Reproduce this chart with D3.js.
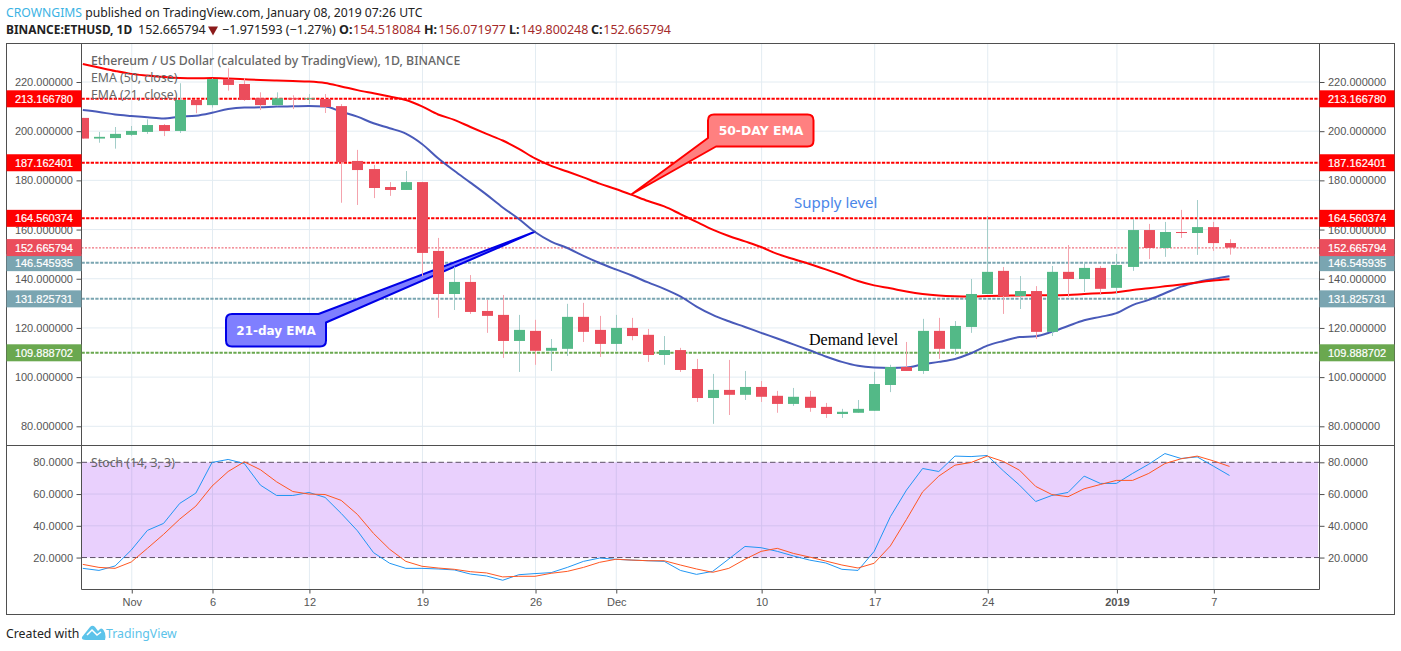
<!DOCTYPE html>
<html><head><meta charset="utf-8">
<script src="https://cdn.jsdelivr.net/npm/d3@7"></script>
<style>
html,body{margin:0;padding:0;background:#fff;overflow:hidden}
svg{display:block}
text{font-family:"Liberation Sans",Arial,sans-serif}
.hd text,.hd{font-family:"Noto Sans",sans-serif}
</style></head><body>
<svg id="c" width="1401" height="651"></svg>
<script>
// ---------- data ----------
const opens=[205.4,197.0,197.2,198.5,199.7,202.5,200.1,212.7,210.6,221.2,219.2,213.4,210.6,213.4,213.0,213.1,210.2,187.9,184.6,177.3,176.1,179.3,151.3,133.8,138.7,126.9,125.3,114.7,118.8,110.7,111.5,124.5,119.2,113.5,120.0,117.2,109.0,111.0,103.3,91.5,94.8,92.8,96.0,92.4,89.1,92.0,87.9,85.0,85.5,86.3,96.8,104.1,102.5,118.8,111.5,120.4,133.8,143.2,133.0,135.0,118.4,142.8,139.9,144.4,136.3,144.8,159.8,152.5,159.0,158.6,161.0,154.518];
const highs=[205.4,199.7,201.7,202.1,204.8,202.9,219.5,212.7,221.5,225.6,221.5,215.8,215.8,214.6,215.1,215.1,211.0,192.4,186.3,179.3,183.8,179.3,156.6,144.9,141.5,131.4,133.4,125.3,123.3,115.5,129.8,130.2,124.9,125.3,124.1,119.6,116.7,111.9,107.4,101.3,107.0,102.5,98.4,94.4,95.6,94.4,89.5,87.1,90.7,102.1,105.0,114.3,123.7,124.1,122.8,139.9,165.5,144.8,141.1,137.0,145.2,153.7,146.8,145.2,150.1,164.3,162.3,163.1,168.0,172.0,163.1,156.072];
const lows=[197.0,195.3,192.9,198.0,198.9,198.0,199.3,207.3,209.6,216.5,212.3,208.6,210.2,209.0,211.0,207.4,170.9,170.0,172.8,173.7,176.1,141.1,124.1,127.3,125.7,118.0,107.8,102.1,105.0,102.5,108.6,114.3,108.2,110.6,115.0,106.2,105.0,102.1,89.9,81.0,84.6,90.7,89.9,85.5,88.3,85.9,83.4,83.4,85.5,86.3,93.9,102.5,101.3,107.4,109.0,118.0,133.8,125.7,127.7,115.5,116.7,132.6,134.6,133.4,133.8,143.2,148.0,148.9,156.6,149.7,151.3,149.8];
const closes=[197.0,197.7,198.9,200.1,202.5,200.1,212.7,210.6,221.2,218.8,212.7,210.6,213.4,213.0,213.4,209.8,187.4,184.2,176.9,176.1,179.3,150.5,133.8,138.7,126.5,124.9,114.7,119.2,110.7,111.9,124.5,118.4,113.5,120.0,116.7,109.0,111.0,102.9,91.5,94.8,92.8,96.0,92.0,89.1,92.0,87.5,85.0,85.9,87.1,97.2,104.1,102.5,118.8,111.5,120.8,133.8,142.8,133.0,135.0,118.4,142.8,139.9,144.4,135.9,145.6,159.8,152.5,159.0,158.6,161.0,154.5,152.666];
const ema50=[227.3,225.9,224.5,223.3,222.6,222.0,221.6,221.5,221.6,221.4,221.1,220.8,220.6,220.4,220.2,219.6,218.2,216.7,215.4,214.1,212.7,210.1,206.8,204.6,201.7,198.9,196.2,192.8,188.9,185.9,183.6,181.2,178.7,176.5,174.1,171.6,169.4,166.3,163.1,160.0,157.4,155.2,152.9,150.1,148.0,146.0,143.8,141.5,139.1,137.3,136.1,134.8,133.8,133.2,132.9,132.8,133.0,133.1,133.2,133.3,133.3,133.4,133.8,134.1,134.5,135.4,136.1,136.9,137.7,138.5,139.3,139.8];
const ema21=[208.6,207.8,206.8,206.2,205.7,205.2,205.9,206.3,207.5,209.0,209.6,209.7,210.0,210.1,210.2,210.0,207.9,205.9,203.2,201.2,199.0,194.8,189.0,183.9,179.1,174.2,169.0,164.3,159.0,155.1,152.5,149.3,146.4,143.8,141.3,138.5,135.9,132.8,128.7,125.3,122.7,120.4,118.0,115.7,113.3,110.9,108.4,106.2,104.6,103.9,103.7,103.9,105.2,106.2,107.4,109.7,112.8,114.7,116.3,116.6,118.4,120.8,123.1,124.5,126.0,129.3,131.4,134.1,136.8,138.6,139.9,141.0];
const stochK=[13.2,11.9,14.7,24.7,37.1,41.5,54.1,60.6,79.9,81.8,79.2,65.6,59.1,59.1,61.0,57.9,47.8,36.9,23.1,16.4,13.2,13.2,12.8,12.2,9.6,8.4,5.7,9.2,9.9,10.5,13.8,17.6,19.7,18.9,18.4,18.0,17.6,11.9,9.4,11.3,19.1,27.0,26.2,23.9,21.0,18.4,16.6,12.6,11.9,23.9,45.7,62.5,76.1,74.2,83.9,83.6,84.3,74.6,65.6,55.3,59.1,61.0,71.3,66.7,66.7,73.0,78.8,85.5,82.4,83.4,77.6,71.7];
const stochD=[15.7,13.8,13.2,17.2,25.8,34.6,44.2,52.4,65.0,74.2,80.3,75.3,67.7,61.6,60.0,59.7,56.0,47.2,35.2,25.2,17.6,14.5,13.4,12.6,11.1,10.3,7.8,8.2,8.2,10.1,11.3,13.8,17.0,18.9,18.4,18.0,18.0,15.3,12.8,10.7,13.2,18.9,23.9,25.8,22.6,20.3,17.8,15.3,13.4,16.4,27.3,44.0,61.4,71.3,78.2,79.9,83.9,80.5,75.0,64.8,59.7,58.3,63.3,66.0,68.6,68.6,73.0,79.2,82.2,83.9,80.9,77.4];
const priceTicks=[80,100,120,140,160,180,200,220];
const stochTicks=[20,40,60,80];
const timeTickIdx=[3,8,14,21,28,33,42,49,56,64,70];
const timeTickLabels=["Nov","6","12","19","26","Dec","10","17","24","2019","7"];
const levelValues=[213.16678,187.162401,164.560374,146.545935,131.825731,109.888702];
const levelColors=["#ff0000","#ff0000","#ff0000","#7aa5b1","#7aa5b1","#6aa84f"];
const lastPrice=152.665794;

// ---------- layout ----------
const L=81.5,R=1319.5,T=43.5,M=445.5,B=589.5,OL=6.5,OR=1394.5,OB=614.5;
const svg=d3.select("#c");
const x=d3.scaleLinear().domain([0,71]).range([82.8,1229.5]);
const y=d3.scaleLinear().domain([80,220]).range([426.3,82]);
const s=d3.scaleLinear().domain([0,80]).range([589.3,462.3]);
const fmt6=d3.format(".6f"),fmt4=d3.format(".4f");

const defs=svg.append("defs");
defs.append("clipPath").attr("id","cp").append("rect").attr("x",L).attr("y",T).attr("width",R-L).attr("height",M-T);
defs.append("clipPath").attr("id","cs").append("rect").attr("x",L).attr("y",M).attr("width",R-L).attr("height",B-M);

// stoch band
svg.append("rect").attr("x",L+.5).attr("width",R-L-2).attr("y",s(80)).attr("height",s(20)-s(80)).attr("fill","#e9d0fd");

// grid
const gridC="#e3ecf2";
const vg=svg.append("g");
timeTickIdx.forEach(i=>{
  vg.append("line").attr("x1",x(i)+.5).attr("x2",x(i)+.5).attr("y1",T).attr("y2",M).attr("stroke",gridC);
  vg.append("line").attr("x1",x(i)+.5).attr("x2",x(i)+.5).attr("y1",M).attr("y2",s(80)).attr("stroke",gridC);
  vg.append("line").attr("x1",x(i)+.5).attr("x2",x(i)+.5).attr("y1",s(80)).attr("y2",s(20)).attr("stroke","#d3c2f0");
  vg.append("line").attr("x1",x(i)+.5).attr("x2",x(i)+.5).attr("y1",s(20)).attr("y2",B).attr("stroke",gridC);
});
priceTicks.forEach(v=>vg.append("line").attr("x1",L).attr("x2",R).attr("y1",y(v)).attr("y2",y(v)).attr("stroke",gridC).attr("stroke-width",1));
[40,60].forEach(v=>vg.append("line").attr("x1",L).attr("x2",R-1).attr("y1",s(v)).attr("y2",s(v)).attr("stroke","#d3c2f0"));
[20,80].forEach(v=>vg.append("line").attr("x1",L).attr("x2",R).attr("y1",s(v)).attr("y2",s(v)).attr("stroke","#5d5066").attr("stroke-dasharray","5.5 3"));

// level lines
const main=svg.append("g").attr("clip-path","url(#cp)");
levelValues.forEach((v,i)=>{
  main.append("line").attr("x1",L).attr("x2",R).attr("y1",y(v)).attr("y2",y(v))
    .attr("stroke",levelColors[i]).attr("stroke-width",2).attr("stroke-dasharray","3.3 1.3");
});
main.append("line").attr("x1",L).attr("x2",R).attr("y1",y(lastPrice)+.3).attr("y2",y(lastPrice)+.3)
  .attr("stroke","#eb4d5c").attr("stroke-width",1).attr("stroke-dasharray","2 1.5");

// callouts
function callout(g,pts,fill,stroke){
  g.append("path").attr("d",pts).attr("fill",fill).attr("stroke",stroke).attr("stroke-width",2).attr("stroke-linejoin","round");
}
callout(main,"M714,114.5 H807.5 Q813.5,114.5 813.5,120.5 V140.5 Q813.5,146.5 807.5,146.5 H716 L632,194 L708,138 V120.5 Q708,114.5 714,114.5 Z","#ff8080","#ff0000");
callout(main,"M232,314 H318.5 L535,231.7 L326,322.5 V340.5 Q326,346.5 320,346.5 H232 Q226,346.5 226,340.5 V320 Q226,314 232,314 Z","#7f7fff","#0000e6");

// EMAs
const line=d3.line().x((d,i)=>x(i)).y(d=>y(d)).curve(d3.curveMonotoneX);
main.append("path").attr("d",line(ema21)).attr("fill","none").attr("stroke","#3f51b5").attr("stroke-width",2).attr("opacity",.95);
main.append("path").attr("d",line(ema50)).attr("fill","none").attr("stroke","#ff0000").attr("stroke-width",2);

// candles
const cg=main.append("g");
closes.forEach((c,i)=>{
  const o=opens[i],up=c>=o;
  cg.append("line").attr("x1",Math.round(x(i))+.5).attr("x2",Math.round(x(i))+.5).attr("y1",y(highs[i])).attr("y2",y(lows[i]))
    .attr("stroke",up?"#a3cdc9":"#f4a3ad");
  const y0=y(Math.max(o,c)),y1=y(Math.min(o,c));
  cg.append("rect").attr("x",Math.round(x(i))-5).attr("width",11).attr("y",y0).attr("height",Math.max(1,y1-y0)).attr("fill",up?"#53b987":"#eb4d5c");
});

// stoch lines
const sg=svg.append("g").attr("clip-path","url(#cs)");
const sl=d3.line().x((d,i)=>x(i)).y(d=>s(d));
sg.append("path").attr("d",sl(stochK)).attr("fill","none").attr("stroke","#2196f3").attr("stroke-width",1);
sg.append("path").attr("d",sl(stochD)).attr("fill","none").attr("stroke","#ff5722").attr("stroke-width",1);

// annotation texts
const ann=svg.append("g");
ann.append("text").attr("x",761).attr("y",134.5).attr("text-anchor","middle").attr("fill","#fff").attr("font-weight",700).attr("font-size",12.4).style("font-family","'DejaVu Sans'").text("50-DAY EMA");
ann.append("text").attr("x",276).attr("y",335).attr("text-anchor","middle").attr("fill","#fff").attr("font-weight",700).attr("font-size",12).style("font-family","'DejaVu Sans'").text("21-day EMA");
ann.append("text").attr("x",794).attr("y",208).attr("fill","#4a86e8").attr("font-size",15).style("font-family","'Noto Sans'").text("Supply level");
ann.append("text").attr("x",809).attr("y",345).attr("fill","#000").attr("font-size",16).style("font-family","'Liberation Serif'").text("Demand level");

// legends
const lg=svg.append("g").attr("class","hd").attr("fill","#666").style("font-family","'Noto Sans'");
lg.append("text").attr("x",91).attr("y",64.5).attr("font-size",12.3).attr("font-weight",500).text("Ethereum / US Dollar (calculated by TradingView), 1D, BINANCE");
lg.append("text").attr("x",91).attr("y",82).attr("font-size",12.3).text("EMA (50, close)");
lg.append("text").attr("x",91).attr("y",99).attr("font-size",12.3).text("EMA (21, close)");
lg.append("text").attr("x",91).attr("y",467).attr("font-size",12.3).text("Stoch (14, 3, 3)");

// frame
const fr=svg.append("g").attr("fill","none").attr("stroke","#4f4f4f");
fr.append("rect").attr("x",OL).attr("y",T).attr("width",OR-OL).attr("height",OB-T);
fr.append("line").attr("x1",L).attr("x2",L).attr("y1",T).attr("y2",B);
fr.append("line").attr("x1",R).attr("x2",R).attr("y1",T).attr("y2",B);
fr.append("line").attr("x1",OL).attr("x2",OR).attr("y1",M).attr("y2",M);
fr.append("line").attr("x1",L).attr("x2",R).attr("y1",B).attr("y2",B);

// axes
function styleAxis(g,fs){
  g.select(".domain").remove();
  g.selectAll(".tick line").attr("stroke","#4f4f4f");
  g.selectAll(".tick text").attr("fill","#555").attr("font-size",fs).style("font-family","'Liberation Sans'");
}
const axL=d3.axisLeft(y).tickValues(priceTicks).tickFormat(fmt6).tickSize(5).tickPadding(3.5);
const axR=d3.axisRight(y).tickValues(priceTicks).tickFormat(fmt6).tickSize(5).tickPadding(3.5);
svg.append("g").attr("transform",`translate(${L},0)`).call(axL).call(styleAxis,11);
svg.append("g").attr("transform",`translate(${R},0)`).call(axR).call(styleAxis,11);
const saL=d3.axisLeft(s).tickValues(stochTicks).tickFormat(fmt4).tickSize(5).tickPadding(3.5);
const saR=d3.axisRight(s).tickValues(stochTicks).tickFormat(fmt4).tickSize(5).tickPadding(3.5);
svg.append("g").attr("transform",`translate(${L},0)`).call(saL).call(styleAxis,11);
svg.append("g").attr("transform",`translate(${R},0)`).call(saR).call(styleAxis,11);
const axB=d3.axisBottom(x).tickValues(timeTickIdx).tickFormat((d,i)=>timeTickLabels[i]).tickSize(0).tickPadding(9);
const ab=svg.append("g").attr("transform",`translate(0.5,${B})`).call(axB).call(styleAxis,11);
ab.selectAll(".tick text").attr("font-weight",(d,i)=>timeTickLabels[i]==="2019"?700:400);
ab.selectAll(".tick line").attr("y2",4);

// price labels
const lbl=svg.append("g");
function tag(v,color,side){
  const x0=side==="l"?OL:R, w=side==="l"?L-OL:OR-R;
  lbl.append("rect").attr("x",x0).attr("y",y(v)-8.5).attr("width",w).attr("height",17).attr("fill",color);
  lbl.append("text").attr("x",side==="l"?73:1328).attr("y",y(v)+4).attr("text-anchor",side==="l"?"end":"start")
    .attr("fill","#fff").attr("stroke","#fff").attr("stroke-width",.2).attr("font-size",11).text(fmt6(v));
}
const tags=levelValues.map((v,i)=>[v,levelColors[i]]).concat([[lastPrice,"#eb4d5c"]]);
tags.forEach(t=>{tag(t[0],t[1],"l");tag(t[0],t[1],"r");});

// header
const h=svg.append("g").attr("class","hd").style("font-family","'Noto Sans'");
const t1=h.append("text").attr("x",6).attr("y",17).attr("fill","#222").attr("font-size",12.2);
t1.append("tspan").attr("fill","#3bb3e4").text("CROWNGIMS");
t1.append("tspan").text(" published on TradingView.com, January 08, 2019 07:26 UTC");
function seg(px,str,fill,bold,size){
  h.append("text").attr("x",px).attr("y",34).attr("fill",fill).attr("font-size",size||12.5).attr("font-weight",bold?700:400).text(str);
}
seg(6,"BINANCE:ETHUSD, 1D","#222",true,11.9);
seg(138,"152.665794","#222");
h.append("path").attr("d","M208,26.5 H218 L213,35.5 Z").attr("fill","#8b1a1a");
seg(222,"−1.971593 (−1.27%)","#222");
const ohlcLabels=["O:","H:","L:","C:"];
const ohlcValues=["154.518084","156.071977","149.800248","152.665794"];
const ohlcLabelX=[339,424,509,591];
const ohlcValueX=[353,438.3,520.7,603.3];
ohlcLabels.forEach((p,i)=>{
  seg(ohlcLabelX[i],p,"#222",true);
  seg(ohlcValueX[i],ohlcValues[i],"#a52a2a");
});

// footer
const f=svg.append("g");
f.append("text").attr("x",6).attr("y",638).attr("fill","#222").attr("font-size",12.3).style("font-family","'Noto Sans'").text("Created with");
f.append("path").attr("d","M82,637 L90,627 Q92.5,624.5 95,627 L98,631 L100,629 Q102,627.5 103.5,630 L105,633 Q106,637 105,640 H86 Q81,640 82,637 Z").attr("fill","#5cc3ea");
f.append("path").attr("d","M87,635 L92,630 L97,635 L101,632").attr("fill","none").attr("stroke","#fff").attr("stroke-width",1.5);
f.append("text").attr("x",106).attr("y",638).attr("fill","#5cc3ea").attr("font-size",12.3).style("font-family","'Noto Sans'").text("TradingView");
</script>
</body></html>
